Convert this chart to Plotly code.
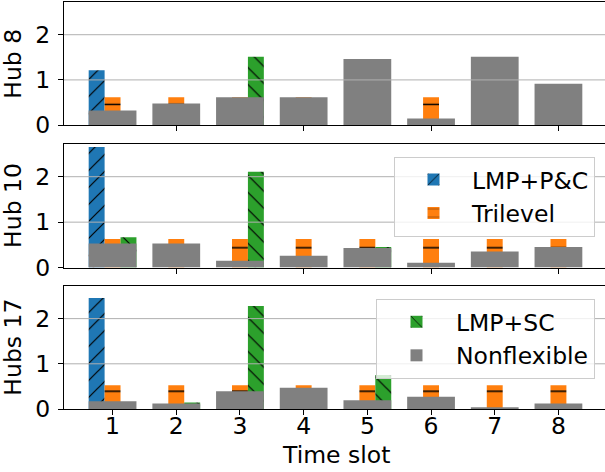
import plotly.graph_objects as go

# ---------------- data ----------------
slots = [1, 2, 3, 4, 5, 6, 7, 8]
hub_labels = ["Hub 8", "Hub 10", "Hubs 17"]
x_tick_labels = ["1", "2", "3", "4", "5", "6", "7", "8"]

lmp_pc_hub8 = [1.215, 0, 0, 0, 0, 0, 0, 0]
lmp_pc_hub10 = [2.655, 0, 0, 0, 0, 0, 0, 0]
lmp_pc_hub17 = [2.454, 0, 0, 0, 0, 0, 0, 0]

trilevel_hub8 = [0.615, 0.615, 0.615, 0.615, 0.615, 0.615, 0.615, 0.615]
trilevel_hub10 = [0.628, 0.628, 0.628, 0.628, 0.628, 0.628, 0.628, 0.628]
trilevel_hub17 = [0.523, 0.523, 0.523, 0.523, 0.523, 0.523, 0.523, 0.523]

lmp_sc_hub8 = [0, 0, 1.515, 0, 0, 0, 0, 0]
lmp_sc_hub10 = [0.667, 0, 2.107, 0, 0.452, 0, 0, 0]
lmp_sc_hub17 = [0, 0.146, 2.277, 0, 0.75, 0, 0, 0]

nonflex_hub8 = [0.323, 0.477, 0.615, 0.615, 1.46, 0.146, 1.515, 0.915]
nonflex_hub10 = [0.529, 0.529, 0.153, 0.26, 0.429, 0.107, 0.352, 0.452]
nonflex_hub17 = [0.169, 0.123, 0.392, 0.469, 0.192, 0.269, 0.03, 0.123]

panels = [
    (lmp_pc_hub8, trilevel_hub8, lmp_sc_hub8, nonflex_hub8),
    (lmp_pc_hub10, trilevel_hub10, lmp_sc_hub10, nonflex_hub10),
    (lmp_pc_hub17, trilevel_hub17, lmp_sc_hub17, nonflex_hub17),
]

# ---------------- style ----------------
W, H = 605, 472
FONT = "DejaVu Sans"
FS = 23.5
BLUE, ORANGE, GREEN, GRAY = "#1f77b4", "#ff7f0e", "#2ca02c", "#808080"

# pixel geometry of the three panels (top, bottom)
panel_px = [(2.4, 125.1), (144.2, 267.6), (286.3, 409.0)]
x_left_px = 64
x_range = [0.2375, 8.731]
y_range = [0, 2.715]
orange_hatch_size = [40.8, 41.4, 42.0]
diag_size = 12

fig = go.Figure()

for i, (pc, tri, sc, nf) in enumerate(panels):
    ax = "" if i == 0 else str(i + 1)
    xa, ya = "x" + ax, "y" + ax
    show_a = i == 1
    show_b = i == 2
    fig.add_trace(go.Bar(
        x=slots, y=pc, xaxis=xa, yaxis=ya, name="LMP+P&C",
        offset=-0.375, width=0.25, legend="legend", legendgroup="pc",
        showlegend=show_a,
        marker=dict(color=BLUE, opacity=1, line=dict(width=0),
                    pattern=dict(shape="/", size=diag_size, solidity=0.1,
                                 fgcolor="black", bgcolor=BLUE,
                                 fillmode="overlay", fgopacity=1)),
    ))
    fig.add_trace(go.Bar(
        x=slots, y=tri, xaxis=xa, yaxis=ya, name="Trilevel",
        offset=-0.125, width=0.25, legend="legend", legendgroup="tri",
        showlegend=show_a,
        marker=dict(color=ORANGE, opacity=1, line=dict(width=0),
                    pattern=dict(shape="-", size=orange_hatch_size[i],
                                 solidity=0.04, fgcolor="black",
                                 bgcolor=ORANGE, fillmode="overlay",
                                 fgopacity=1)),
    ))
    fig.add_trace(go.Bar(
        x=slots, y=sc, xaxis=xa, yaxis=ya, name="LMP+SC",
        offset=0.125, width=0.25, legend="legend2", legendgroup="sc",
        showlegend=show_b,
        marker=dict(color=GREEN, opacity=1, line=dict(width=0),
                    pattern=dict(shape="\\", size=diag_size, solidity=0.1,
                                 fgcolor="black", bgcolor=GREEN,
                                 fillmode="overlay", fgopacity=1)),
    ))
    fig.add_trace(go.Bar(
        x=slots, y=nf, xaxis=xa, yaxis=ya, name="Nonflexible",
        offset=-0.375, width=0.75, legend="legend2", legendgroup="nf",
        showlegend=show_b,
        marker=dict(color=GRAY, opacity=1, line=dict(width=0)),
    ))

layout = dict(
    width=W, height=H,
    margin=dict(l=0, r=0, t=0, b=0),
    template="none",
    paper_bgcolor="white", plot_bgcolor="white",
    barmode="overlay",
    font=dict(family=FONT, size=FS, color="black"),
    showlegend=True,
    annotations=[],
    shapes=[],
)

for i, (top, bot) in enumerate(panel_px):
    ax = "" if i == 0 else str(i + 1)
    xkey, ykey = "xaxis" + ax, "yaxis" + ax
    dom_y = [1 - bot / H, 1 - top / H]
    xcfg = dict(
        domain=[x_left_px / W, 1], range=x_range, anchor="y" + ax,
        showline=True, linecolor="black", linewidth=1, mirror=True,
        ticks="outside", ticklen=5, tickwidth=1, tickcolor="black",
        showgrid=False, zeroline=False, automargin=False,
        tickfont=dict(family=FONT, size=FS, color="black"),
    )
    if i < 2:
        xcfg.update(tickmode="array", tickvals=[2, 4, 6, 8], showticklabels=False)
        xcfg["matches"] = "x3"
    else:
        xcfg.update(tickmode="array", tickvals=slots, ticktext=x_tick_labels,
                    showticklabels=True, ticklabelstandoff=-9)
    ycfg = dict(
        domain=dom_y, range=y_range, anchor="x" + ax,
        showline=True, linecolor="black", linewidth=1, mirror=False,
        ticks="outside", ticklen=5, tickwidth=1, tickcolor="black",
        tickmode="array", tickvals=[0, 1, 2],
        showgrid=False, zeroline=False, automargin=False,
        ticklabelstandoff=3,
        tickfont=dict(family=FONT, size=FS, color="black"),
    )
    layout[xkey] = xcfg
    layout[ykey] = ycfg
    for gv in [1, 2]:
        layout["shapes"].append(dict(
            type="line", xref="x" + ax + " domain", yref="y" + ax,
            x0=0, x1=1, y0=gv, y1=gv, layer="above",
            line=dict(color="#b0b0b0", width=1),
        ))
    layout["annotations"].append(dict(
        text=hub_labels[i], xref="paper", yref="paper",
        x=13 / W, y=1 - (top + bot) / 2 / H, xanchor="center", yanchor="middle",
        textangle=-90, showarrow=False,
        font=dict(family=FONT, size=FS, color="black"),
    ))

layout["annotations"].append(dict(
    text="Time slot", xref="paper", yref="paper",
    x=336 / W, y=1 - 455 / H, xanchor="center", yanchor="middle",
    showarrow=False, font=dict(family=FONT, size=FS, color="black"),
))

legend_common = dict(
    xanchor="right", yanchor="top",
    bgcolor="rgba(255,255,255,0.8)", bordercolor="#cccccc", borderwidth=1,
    font=dict(family=FONT, size=FS, color="black"),
    tracegroupgap=7, traceorder="normal",
)
layout["legend"] = dict(x=595 / W, y=1 - 156.7 / H, itemwidth=67, **legend_common)
layout["legend2"] = dict(x=595 / W, y=1 - 299 / H, itemwidth=69, **legend_common)

fig.update_layout(**layout)
fig.write_html("out.html")
